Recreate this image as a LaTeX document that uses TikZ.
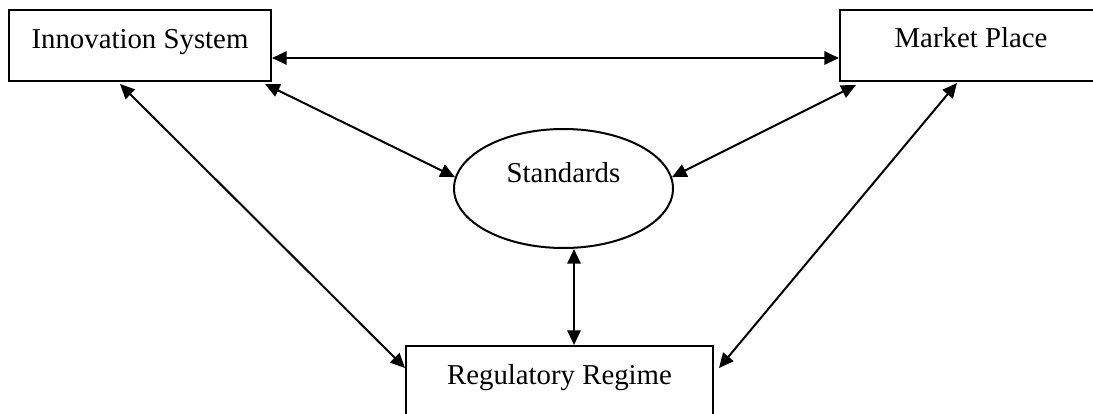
\documentclass[tikz,border=0pt]{standalone}
\usepackage{fontspec}
\setmainfont{Liberation Serif}
\usetikzlibrary{arrows.meta,shapes.geometric}
\def\pxu{0.75pt}
\tikzset{
  boxnode/.style={draw, line width=1.5pt, rectangle, inner sep=0pt},
  ovalnode/.style={draw, line width=1.5pt, ellipse, inner sep=0pt},
  label text/.style={inner sep=0pt, anchor=base, font=\fontsize{21.6}{26}\selectfont},
  arr/.style={line width=1.5pt, {Triangle[length=11pt,width=10pt]}-{Triangle[length=11pt,width=10pt]}}
}
\begin{document}
\begin{tikzpicture}[x=0.75pt,y=-0.75pt]
\useasboundingbox (0,0) rectangle (1093,414);
\clip (0,0) rectangle (1093,414);
\fill[white] (0,0) rectangle (1093,414);
% boxes
\node[boxnode, minimum width=262*\pxu, minimum height=71*\pxu] (inn) at (140,45.5) {};
\node[label text] (innt) at (140,48) {Innovation System};
\node[boxnode, minimum width=262*\pxu, minimum height=71*\pxu] (mkt) at (971,45.5) {};
\node[label text] (mktt) at (971,47) {Market Place};
\node[ovalnode, minimum width=219*\pxu, minimum height=119*\pxu] (std) at (563.5,188.5) {};
\node[label text] (stdt) at (563.5,182) {Standards};
\node[boxnode, minimum width=307*\pxu, minimum height=71*\pxu] (reg) at (559.5,381.5) {};
\node[label text] (regt) at (559.5,384) {Regulatory Regime};
% connectors
\draw[arr] ([yshift=-12.5*\pxu]inn.east) -- ([yshift=-12.5*\pxu]mkt.west);
\draw[arr] ([xshift=-7*\pxu,yshift=-2*\pxu]inn.south east) -- (std.174);
\draw[arr] ([xshift=-20*\pxu,yshift=-2*\pxu]inn.south) -- ([yshift=13.5*\pxu]reg.west);
\draw[arr] ([xshift=17*\pxu,yshift=-3*\pxu]mkt.south west) -- (std.6);
\draw[arr] ([xshift=-14*\pxu,yshift=-1*\pxu]mkt.south) -- ([xshift=5*\pxu,yshift=13.5*\pxu]reg.east);
\draw[arr] ([xshift=10.5*\pxu]std.south) coordinate (s6) -- (s6 |- reg.north);
\end{tikzpicture}
\end{document}
